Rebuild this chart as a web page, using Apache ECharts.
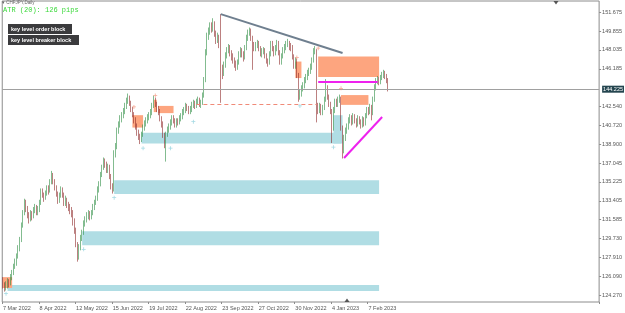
<!DOCTYPE html>
<html><head><meta charset="utf-8">
<script src="https://cdn.jsdelivr.net/npm/echarts@6/dist/echarts.min.js"></script>
<style>html,body{margin:0;padding:0;background:#fff}#c{width:625px;height:313px}</style>
</head><body><div id="c"></div>
<script>
// ---- data ----
const symbolName = 'CHFJPY,Daily';
const atrText = 'ATR (20): 126 pips';
const legendTexts = ['key level order block', 'key level breaker block'];
const xTickLabels = ['7 Mar 2022','8 Apr 2022','12 May 2022','15 Jun 2022','19 Jul 2022','22 Aug 2022','23 Sep 2022','27 Oct 2022','30 Nov 2022','4 Jan 2023','7 Feb 2023'];
const xTickStep = 24;          // bars between date labels
const slotCount = 392;         // bar slots across the chart (incl. empty right margin)
const yTickValues = [151.675,149.855,148.035,146.185,142.540,140.720,138.900,137.045,135.225,133.405,131.585,129.730,127.910,126.090,124.270];
const lastPrice = 144.225;
// [open, close, low, high]
const ohlc = [
[125.6,125.3,124.9,126.0],[125.3,125.0,124.6,125.5],[125.0,125.2,124.7,125.6],[125.2,125.5,124.9,125.9],[125.5,125.4,125.0,125.8],
[125.4,126.0,125.2,126.3],[126.0,126.4,125.7,126.7],[126.4,127.0,126.2,127.3],[127.0,127.4,126.8,127.8],[127.4,128.0,127.1,128.3],
[128.0,128.8,127.8,129.1],[128.8,129.6,128.5,129.9],[129.6,131.0,129.4,131.3],[131.0,132.2,130.8,132.5],[132.2,133.2,132.0,133.6],
[133.2,132.6,132.3,133.5],[132.6,132.0,131.7,132.9],[132.0,131.6,131.2,132.3],[131.6,132.2,131.4,132.5],[132.2,131.9,131.5,132.4],
[131.9,132.5,131.7,132.8],[132.5,132.8,132.2,133.1],[132.8,132.3,132.0,133.0],[132.3,132.5,132.0,132.9],[132.5,133.2,132.3,133.5],
[133.2,134.3,133.0,134.6],[134.3,134.0,133.7,134.6],[134.0,133.7,133.3,134.2],[133.7,134.1,133.5,134.4],[134.1,134.6,133.9,134.9],
[134.6,134.4,134.0,134.9],[134.4,135.2,134.2,135.5],[135.2,135.9,135.0,136.3],[135.9,135.3,135.0,136.1],[135.3,134.7,134.4,135.5],
[134.7,134.1,133.8,134.9],[134.1,133.5,133.1,134.3],[133.5,133.9,133.2,134.2],[133.9,134.5,133.7,134.8],[134.5,134.0,133.7,134.7],
[134.0,133.2,132.9,134.2],[133.2,133.5,132.9,133.9],[133.5,133.0,132.7,133.7],[133.0,132.8,132.4,133.3],[132.8,132.5,132.1,133.1],
[132.5,132.2,131.8,132.8],[132.2,131.4,131.0,132.5],[131.4,130.6,130.2,131.7],[130.6,129.2,128.9,130.8],[129.2,127.9,127.5,129.4],
[127.9,128.9,127.7,129.2],[128.9,129.8,128.6,130.1],[129.8,130.3,129.5,130.6],[130.3,131.2,130.1,131.5],[131.2,131.6,130.9,131.9],
[131.6,131.9,131.3,132.3],[131.9,132.2,131.6,132.5],[132.2,131.8,131.5,132.4],[131.8,132.2,131.6,132.5],[132.2,132.8,132.0,133.1],
[132.8,133.2,132.5,133.5],[133.2,133.6,133.0,133.9],[133.6,134.5,133.4,134.8],[134.5,135.0,134.2,135.3],[135.0,135.9,134.8,136.2],
[135.9,136.6,135.7,136.9],[136.6,137.2,136.4,137.6],[137.2,137.0,136.6,137.5],[137.0,136.4,136.1,137.2],[136.4,136.7,136.1,137.0],
[136.7,135.8,135.5,136.9],[135.8,134.8,134.5,136.0],[134.8,134.5,134.1,135.1],[134.5,138.0,134.3,138.3],[138.0,138.6,137.6,139.0],
[138.6,140.2,138.4,140.5],[140.2,140.8,139.9,141.1],[140.8,141.4,140.5,141.7],[141.4,141.7,141.0,142.0],[141.7,142.1,141.4,142.4],
[142.1,142.6,141.8,142.9],[142.6,143.1,142.3,143.4],[143.1,143.4,142.8,143.8],[143.4,142.9,142.6,143.6],[142.9,142.3,142.0,143.1],
[142.3,141.8,141.5,142.5],[141.8,141.2,140.9,142.0],[141.2,140.6,140.3,141.5],[140.6,140.0,139.7,140.9],[140.0,139.6,139.3,140.3],
[139.6,139.3,138.9,139.9],[139.3,139.8,139.1,140.1],[139.8,140.5,139.6,140.8],[140.5,140.9,140.2,141.2],[140.9,141.2,140.6,141.5],
[141.2,141.5,140.9,141.8],[141.5,141.7,141.2,142.0],[141.7,141.9,141.4,142.3],[141.9,142.6,141.7,142.9],[142.6,143.2,142.4,143.6],
[143.2,142.8,142.5,143.4],[142.8,142.3,142.0,143.0],[142.3,142.1,141.7,142.6],[142.1,141.4,141.1,142.3],[141.4,140.9,140.5,141.6],
[140.9,139.8,139.5,141.1],[139.8,138.8,138.5,140.0],[138.8,139.9,137.2,140.1],[139.9,140.3,139.6,140.6],[140.3,140.6,140.0,140.9],
[140.6,141.0,140.3,141.3],[141.0,141.4,140.7,141.7],[141.4,141.2,140.9,141.7],[141.2,140.8,140.5,141.4],[140.8,141.1,140.5,141.4],
[141.1,141.0,140.7,141.4],[141.0,141.4,140.8,141.7],[141.4,141.6,141.1,141.9],[141.6,142.0,141.3,142.3],[142.0,142.2,141.7,142.5],
[142.2,142.6,141.9,142.9],[142.6,142.4,142.1,142.8],[142.4,142.1,141.8,142.6],[142.1,142.3,141.8,142.6],[142.3,142.7,142.0,143.0],
[142.7,142.9,142.4,143.2],[142.9,142.6,142.3,143.1],[142.6,143.0,142.4,143.3],[143.0,143.2,142.7,143.5],[143.2,142.8,142.5,143.4],
[142.8,142.9,142.4,143.2],[142.9,143.6,142.7,143.9],[143.6,145.1,143.4,145.4],[145.1,147.8,144.9,148.1],[147.8,149.4,147.5,149.7],
[149.4,149.8,149.0,150.2],[149.8,150.4,149.5,150.7],[150.4,150.1,149.7,150.7],[150.1,150.6,149.8,151.1],[150.6,149.6,149.3,150.8],
[149.6,149.0,148.6,149.9],[149.0,149.3,148.7,149.7],[149.3,148.5,148.2,149.5],[148.5,146.0,142.9,151.5],[146.0,145.8,145.2,146.6],
[145.8,146.6,145.5,146.9],[146.6,147.5,146.3,147.8],[147.5,148.0,147.2,148.3],[148.0,148.2,147.7,148.6],[148.2,147.7,147.4,148.5],
[147.7,147.4,147.0,148.0],[147.4,147.0,146.7,147.7],[147.0,146.7,146.3,147.3],[146.7,146.4,146.0,147.0],[146.4,146.8,146.1,147.1],
[146.8,147.6,146.6,147.9],[147.6,148.0,147.3,148.3],[148.0,147.6,147.3,148.2],[147.6,147.3,146.9,147.9],[147.3,148.2,147.1,148.5],
[148.2,149.2,148.0,149.5],[149.2,149.7,148.9,150.0],[149.7,149.9,149.4,150.2],[149.9,149.2,148.9,150.1],[149.2,148.6,146.1,149.4],
[148.6,148.2,147.9,148.8],[148.2,148.5,147.9,148.8],[148.5,148.7,148.2,149.0],[148.7,148.2,147.9,148.9],[148.2,147.7,147.4,148.4],
[147.7,147.9,147.3,148.2],[147.9,148.0,147.6,148.3],[148.0,147.5,147.2,148.2],[147.5,147.0,146.7,147.7],[147.0,146.8,146.4,147.2],
[146.8,147.6,146.6,147.9],[147.6,148.6,147.4,148.9],[148.6,148.2,147.9,148.9],[148.2,147.7,147.4,148.4],[147.7,148.2,147.5,148.5],
[148.2,148.7,147.9,149.0],[148.7,147.8,147.5,148.9],[147.8,146.9,146.6,148.0],[146.9,147.4,146.6,147.7],[147.4,148.0,147.2,148.3],
[148.0,148.3,147.7,148.6],[148.3,148.6,148.0,148.9],[148.6,148.7,148.3,149.1],[148.7,148.4,148.0,148.9],[148.4,148.3,147.9,148.7],
[148.3,147.4,147.1,148.5],[147.4,146.5,146.2,147.6],[146.5,147.0,146.2,147.3],[147.0,145.6,145.3,147.2],[145.6,143.6,143.0,145.8],
[143.6,143.8,143.2,144.2],[143.8,144.3,143.5,144.6],[144.3,144.6,144.0,144.9],[144.6,145.1,144.3,145.4],[145.1,145.4,144.8,145.7],
[145.4,145.8,145.1,146.1],[145.8,146.0,145.5,146.3],[146.0,146.4,145.7,146.7],[146.4,147.0,146.1,147.3],[147.0,147.9,146.8,148.2],
[147.9,148.0,147.6,148.4],[148.0,142.5,141.0,148.1],[142.5,142.2,141.8,142.9],[142.2,142.6,141.9,142.9],[142.6,142.0,141.7,142.8],
[142.0,142.4,141.7,142.7],[142.4,143.2,142.2,143.5],[143.2,144.3,143.0,145.2],[144.3,143.5,143.2,144.6],[143.5,142.8,142.5,143.7],
[142.8,142.1,141.8,143.0],[142.1,140.4,139.0,142.3],[140.4,142.2,140.2,142.5],[142.2,143.0,141.9,143.3],[143.0,142.8,142.5,143.3],
[142.8,143.2,142.5,143.5],[143.2,143.4,142.9,143.7],[143.4,140.5,140.2,143.5],[140.5,138.3,137.5,140.7],[138.3,139.5,138.0,139.8],
[139.5,140.2,139.2,140.5],[140.2,140.6,139.9,140.9],[140.6,141.2,140.3,141.5],[141.2,141.5,140.9,141.8],[141.5,141.0,140.7,141.7],
[141.0,141.6,140.8,141.9],[141.6,141.2,140.9,141.8],[141.2,140.8,140.5,141.4],[140.8,141.4,140.6,141.7],[141.4,141.1,140.8,141.6],
[141.1,140.7,140.4,141.3],[140.7,141.3,140.5,141.6],[141.3,140.9,140.6,141.5],[140.9,141.6,140.7,141.9],[141.6,142.2,141.4,142.5],
[142.2,142.0,141.7,142.5],[142.0,142.5,141.8,142.8],[142.5,141.9,141.2,142.7],[141.9,143.2,141.7,143.5],[143.2,144.4,143.0,144.7],
[144.4,145.0,144.1,145.3],[145.0,145.2,144.7,145.5],[145.2,144.9,144.6,145.4],[144.9,145.3,144.7,145.6],[145.3,145.6,145.1,145.9],
[145.6,145.8,145.3,146.1],[145.8,145.5,145.2,146.0],[145.5,145.1,144.8,145.7],[145.1,144.225,144.0,145.3]
];
// zones: [barFrom, priceLow, barTo, priceHigh]
const orderBlocks = [[0,124.95,6,126.0],[84.5,140.5,92.3,141.7],[98.8,142.0,100.8,143.2],[102,141.9,111.7,142.6],[192.3,145.3,195.6,146.9],[206.7,145.4,246.6,147.4],[221.7,142.7,240.2,143.65]];
const demandZones = [[91,138.95,222,140.0],[216.5,138.95,223,141.7],[72.5,134.05,246.6,135.4],[51.5,129.1,246.6,130.45],[3,124.65,246.6,125.25]];
// lines: [bar1, price1, bar2, price2]
const downTrend = [143.3,151.5,223,147.73];
const upTrend = [223.7,137.55,249.2,141.52];
const breakerLine = [207,144.9,246.4,144.9];
const dashedLevel = [127,142.78,206,142.78];
const sellMarks = [[86.4,142.5],[99.5,143.6],[193.4,147.3],[206.9,148.2],[222.2,144.3]];
const buyMarks = [[92.1,138.5],[109.5,138.5],[73.1,133.7],[52.9,128.7],[124.8,141.07],[195.1,142.6],[217.3,138.6],[2,124.4]];

// ---- chart ----
const categories = Array.from({length: slotCount}, (_, i) => String(i));
const box = z => [{coord:[z[0], z[1]]}, {coord:[z[2], z[3]]}];
const seg = (l, style) => [{coord:[l[0], l[1]], lineStyle: style}, {coord:[l[2], l[3]]}];
const plus = 'path://M4,0H6V4H10V6H6V10H4V6H0V4H4Z';
const font = 'Liberation Sans, Arial, sans-serif';

const chart = echarts.init(document.getElementById('c'), null, {renderer: 'canvas'});
chart.setOption({
  animation: false,
  backgroundColor: '#ffffff',
  grid: {left: 0, right: 25, top: 1, bottom: 11, show: true, borderColor: '#8c8c8c', borderWidth: 1, backgroundColor: 'transparent'},
  xAxis: {
    type: 'category', data: categories, boundaryGap: true,
    axisLine: {show: false},
    axisTick: {show: true, length: 2, lineStyle: {color: '#8c8c8c'}, interval: i => i % xTickStep === 0 && i / xTickStep < xTickLabels.length},
    axisLabel: {
      show: true, fontSize: 5.5, color: '#555', fontFamily: font, align: 'left', margin: 3,
      interval: i => i % xTickStep === 0 && i / xTickStep < xTickLabels.length,
      formatter: (v, i) => (i % xTickStep === 0 ? (xTickLabels[i / xTickStep] || '') : '')
    },
    splitLine: {show: false}
  },
  yAxis: {
    type: 'value', position: 'right', min: 123.59, max: 152.77, scale: true,
    axisLine: {show: false},
    axisTick: {show: true, length: 2, customValues: yTickValues, lineStyle: {color: '#8c8c8c'}},
    axisLabel: {show: true, customValues: yTickValues, fontSize: 5.5, color: '#555', fontFamily: font, margin: 3,
      formatter: v => v.toFixed(3)},
    splitLine: {show: false}
  },
  series: [
    {
      type: 'line', data: [], z: 1, silent: true,
      markArea: {silent: true, label: {show: false},
        data: [
          ...demandZones.map(z => { const b = box(z); b[0].itemStyle = {color: '#b0dde4', opacity: 1}; return b; }),
          ...orderBlocks.map(z => { const b = box(z); b[0].itemStyle = {color: '#fda57f', opacity: 1}; return b; })
        ]}
    },
    {
      type: 'candlestick', data: ohlc, z: 3, barWidth: 1,
      itemStyle: {color: '#2f8f45', color0: '#8f2a2a', borderColor: '#2f8f45', borderColor0: '#8f2a2a', borderWidth: 0.6},
      markLine: {
        silent: true, symbol: 'none', z: 4,
        data: [
          {yAxis: lastPrice, lineStyle: {color: '#a0a0a0', width: 1, type: 'solid'},
           label: {show: true, position: 'end', formatter: lastPrice.toFixed(3), color: '#fff', backgroundColor: '#24454f',
                   fontSize: 5.5, fontFamily: font, padding: [1, 1, 0, 1], distance: 3}},
          seg(downTrend, {color: '#6f7f8f', width: 2, type: 'solid'}),
          seg(upTrend, {color: '#ee22ee', width: 2, type: 'solid'}),
          seg(breakerLine, {color: '#ee22ee', width: 2, type: 'solid'}),
          seg(dashedLevel, {color: '#f08a78', width: 1, type: [4, 3]})
        ].map(d => Array.isArray(d) ? d.map((p, k) => k === 0 ? Object.assign(p, {label: {show: false}}) : p) : d)
      }
    },
    {type: 'scatter', data: sellMarks, symbol: plus, symbolSize: 4, itemStyle: {color: '#f4937a'}, z: 5, silent: true},
    {type: 'scatter', data: buyMarks, symbol: plus, symbolSize: 4, itemStyle: {color: '#8ccfdc'}, z: 5, silent: true}
  ],
  graphic: [
    {type: 'text', left: 2, top: 0, style: {text: '\u25BE ' + symbolName, fontSize: 4.5, fill: '#666', fontFamily: font}},
    {type: 'text', left: 3, top: 7, style: {text: atrText, fontSize: 7, fill: '#38d838', fontFamily: 'Liberation Mono, DejaVu Sans Mono, monospace'}},
    {type: 'rect', left: 8, top: 24, shape: {width: 64, height: 10}, style: {fill: '#3b3b3d'}},
    {type: 'text', left: 11, top: 26, style: {text: legendTexts[0], fontSize: 5.5, fontWeight: 'bold', fill: '#fff', fontFamily: font}},
    {type: 'rect', left: 8, top: 35, shape: {width: 71, height: 10}, style: {fill: '#3b3b3d'}},
    {type: 'text', left: 11, top: 37, style: {text: legendTexts[1], fontSize: 5.5, fontWeight: 'bold', fill: '#fff', fontFamily: font}},
    {type: 'polygon', shape: {points: [[344.5, 302], [349.5, 302], [347, 298.5]]}, style: {fill: '#555'}},
    {type: 'polygon', shape: {points: [[553.5, 1], [558.5, 1], [556, 4.5]]}, style: {fill: '#555'}}
  ]
});
</script></body></html>
